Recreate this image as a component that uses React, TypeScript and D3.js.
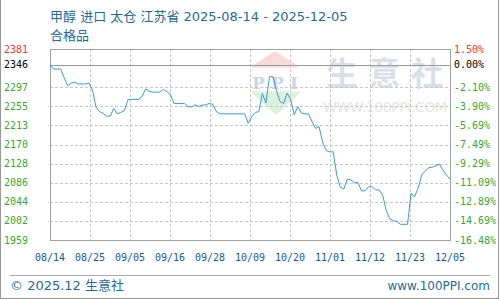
import React from "react";
import * as d3 from "d3";

const dates: string[] = [
  "2025-08-14","2025-08-15","2025-08-17","2025-08-18","2025-08-19","2025-08-20","2025-08-21","2025-08-22","2025-08-24","2025-08-25",
  "2025-08-26","2025-08-27","2025-08-28","2025-08-29","2025-08-30","2025-08-31","2025-09-01","2025-09-02","2025-09-03","2025-09-04",
  "2025-09-05","2025-09-06","2025-09-08","2025-09-09","2025-09-10","2025-09-11","2025-09-12","2025-09-14","2025-09-15","2025-09-16",
  "2025-09-17","2025-09-18","2025-09-21","2025-09-22","2025-09-23","2025-09-24","2025-09-25","2025-09-26","2025-09-27","2025-09-28",
  "2025-09-29","2025-09-30","2025-10-01","2025-10-08","2025-10-09","2025-10-10","2025-10-11","2025-10-12","2025-10-13","2025-10-14",
  "2025-10-15","2025-10-16","2025-10-17","2025-10-18","2025-10-19","2025-10-20","2025-10-21","2025-10-22","2025-10-23","2025-10-24",
  "2025-10-25","2025-10-26","2025-10-27","2025-10-28","2025-10-29","2025-10-30","2025-10-31","2025-11-01","2025-11-02","2025-11-03",
  "2025-11-04","2025-11-05","2025-11-06","2025-11-07","2025-11-08","2025-11-09","2025-11-10","2025-11-11","2025-11-12","2025-11-13",
  "2025-11-14","2025-11-15","2025-11-16","2025-11-17","2025-11-18","2025-11-19","2025-11-20","2025-11-21","2025-11-22","2025-11-23",
  "2025-11-24","2025-11-25","2025-11-26","2025-11-27","2025-11-28","2025-11-29","2025-11-30","2025-12-01","2025-12-02","2025-12-03",
  "2025-12-04","2025-12-05"
];

const prices: number[] = [
  2346,2337,2337,2318,2300,2306,2308,2304,2304,2306,
  2290,2253,2243,2239,2233,2233,2250,2238,2241,2245,
  2269,2270,2270,2276,2293,2288,2286,2286,2292,2287,
  2281,2261,2261,2254,2253,2258,2254,2257,2258,2261,
  2259,2243,2238,2238,2217,2232,2241,2243,2283,2262,
  2320,2320,2288,2265,2261,2284,2269,2236,2254,2240,
  2238,2238,2221,2206,2210,2176,2157,2154,2154,2103,
  2076,2072,2094,2092,2086,2086,2068,2068,2077,2077,
  2070,2070,2058,2024,2006,2002,2000,1994,1994,1994,
  2063,2055,2074,2103,2112,2119,2120,2123,2127,2114,
  2103,2094
];

const basePrice = 2346;
const yTickValues: number[] = [2381, 2346, 2297, 2255, 2213, 2170, 2128, 2086, 2044, 2002, 1959];
const pctTickLabels: string[] = ["1.50%", "0.00%", "-2.10%", "-3.90%", "-5.69%", "-7.49%", "-9.29%", "-11.09%", "-12.89%", "-14.69%", "-16.48%"];
const xTickLabels: string[] = ["08/14", "08/25", "09/05", "09/16", "09/28", "10/09", "10/20", "11/01", "11/12", "11/23", "12/05"];

const title = "甲醇 进口 太仓 江苏省 2025-08-14 - 2025-12-05";
const subtitle = "合格品";
const footerLeft = "© 2025.12 生意社";
const footerRight = "www.100PPI.com";

const W = 500, H = 300;
const L = 50, R = 450, T = 49, B = 240;

export default function App() {
  const parse = d3.timeParse("%Y-%m-%d");
  const data = dates.map((d, i) => ({ date: parse(d) as Date, v: prices[i] }));
  const x = d3.scaleTime()
    .domain([parse(dates[0]) as Date, parse(dates[dates.length - 1]) as Date])
    .range([L, R]);
  const y = d3.scaleLinear()
    .domain([basePrice * (1 - 0.1648), basePrice * 1.015])
    .range([B, T]);
  const xTick = d3.scaleLinear().domain([0, xTickLabels.length - 1]).range([L, R]);
  const line = d3.line<{ date: Date; v: number }>()
    .x(d => x(d.date))
    .y(d => y(d.v));

  const labelColor = (i: number) => (i === 0 ? "#ff3333" : i === 1 ? "#000000" : "#33aa33");
  const mono = "'DejaVu Sans Mono', monospace";
  const sans = "'DejaVu Sans', 'Noto Sans CJK SC', sans-serif";

  return (
    <svg width={W} height={H} style={{ position: "absolute", left: 0, top: 0, background: "#fff" }}>
      <rect x={0} y={0} width={W} height={H} fill="#fff" />
      {/* outer frame */}
      <line x1={0.5} y1={0} x2={0.5} y2={298.5} stroke="#999" />
      <line x1={498.5} y1={0} x2={498.5} y2={298.5} stroke="#999" />
      <line x1={0} y1={298.5} x2={499} y2={298.5} stroke="#999" />

      {/* title */}
      <text x={50} y={21} fontFamily={sans} fontSize={13} fill="#1f6a9a">{title}</text>
      <text x={50} y={40} fontFamily={sans} fontSize={13} fill="#1f6a9a">{subtitle}</text>

      {/* watermark */}
      <g>
        <path d="M252,66 L275,51 L298,66 Z" fill="#f9dada" />
        <rect x={252} y={66} width={46} height={2} fill="#fbe6e6" />
        <text x={275} y={89} textAnchor="middle" fontFamily="'DejaVu Serif', serif" fontWeight="bold" fontSize={17} fill="#cdd6e8" textLength={46}>PPI</text>
        <rect x={252} y={91} width={48} height={2} fill="#e6f4e6" />
        <path d="M252,93 L300,93 L276,115 Z" fill="#dcf1dc" />
        <text x={326} y={85} fontFamily="'Noto Sans CJK SC', sans-serif" fontSize={32} fontWeight="bold" fill="#d9dfea" textLength={117}>生意社</text>
        <text x={323} y={112} fontFamily="'DejaVu Sans', sans-serif" fontSize={14} fill="#e6e6e6" textLength={124}>WWW.100PPI.COM</text>
      </g>

      {/* grid */}
      {yTickValues.map((v, i) =>
        i === 0 || i === 1 || i === yTickValues.length - 1 ? null : (
          <line key={"gy" + i} x1={L} x2={R} y1={Math.round(y(v)) + 0.5} y2={Math.round(y(v)) + 0.5}
            stroke="#c8c8c8" strokeDasharray="3,2" />
        )
      )}
      {xTickLabels.map((_, i) =>
        i === 0 || i === xTickLabels.length - 1 ? null : (
          <line key={"gx" + i} x1={Math.round(xTick(i)) + 0.5} x2={Math.round(xTick(i)) + 0.5} y1={T} y2={B}
            stroke="#c8c8c8" strokeDasharray="3,2" />
        )
      )}
      {/* frame of plot */}
      <rect x={L + 0.5} y={Math.round(y(yTickValues[0])) + 0.5} width={R - L} height={B - Math.round(y(yTickValues[0]))}
        fill="none" stroke="#a0a0a0" />
      <line x1={L} x2={R} y1={Math.round(y(basePrice)) + 0.5} y2={Math.round(y(basePrice)) + 0.5} stroke="#999" />

      {/* series */}
      <path d={line(data) || ""} fill="none" stroke="#3d9ad6" strokeWidth={1} />

      {/* y labels */}
      {yTickValues.map((v, i) => (
        <text key={"yl" + i} x={28} y={y(v)} dy="0.35em" textAnchor="end" fontFamily={mono} fontSize={10} fill={labelColor(i)}>{v}</text>
      ))}
      {pctTickLabels.map((p, i) => (
        <text key={"pl" + i} x={454} y={y(yTickValues[i])} dy="0.35em" fontFamily={mono} fontSize={10} fill={labelColor(i)}>{p}</text>
      ))}
      {/* x labels */}
      {xTickLabels.map((t, i) => (
        <text key={"xl" + i} x={xTick(i)} y={261} textAnchor="middle" fontFamily={mono} fontSize={10} fill="#1a5a8a">{t}</text>
      ))}

      {/* footer */}
      <line x1={10} x2={490} y1={275.5} y2={275.5} stroke="#aaa" />
      <text x={10} y={290} fontFamily={sans} fontSize={13} fill="#1f6a9a">{footerLeft}</text>
      <text x={490} y={290} textAnchor="end" fontFamily={sans} fontSize={12} fill="#1f6a9a">{footerRight}</text>
    </svg>
  );
}
